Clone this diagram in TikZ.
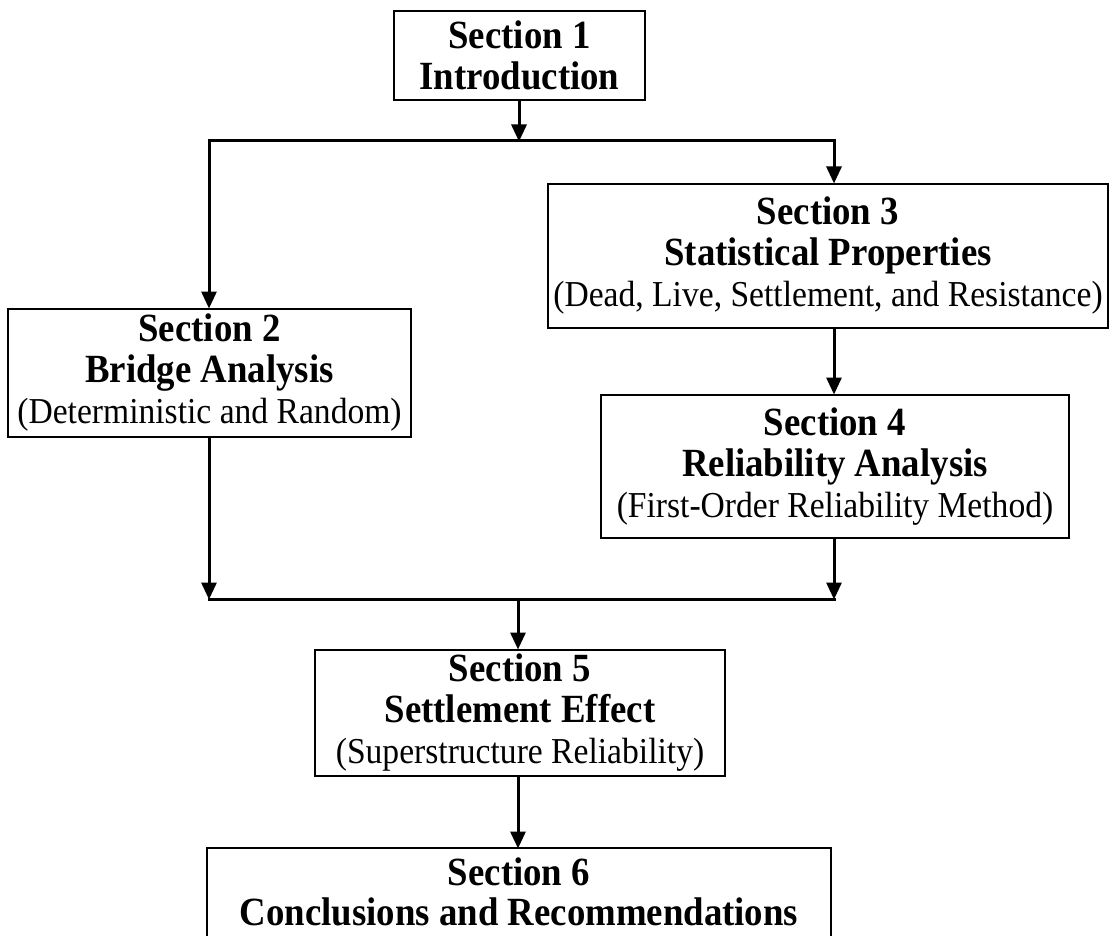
\documentclass[tikz,border=0pt]{standalone}
\usepackage{fontspec}
\setmainfont{Liberation Serif}[FakeStretch=0.92]
\usetikzlibrary{arrows.meta}
\newcommand{\hd}[1]{\textbf{#1}}
\newcommand{\sub}[1]{{\fontsize{36.5}{41}\selectfont #1}}
\tikzset{
  boxtext/.style={rectangle, align=center, inner sep=0pt, font=\fontsize{40}{41}\selectfont},
  box/.style={boxtext, draw=black, line width=2pt},
  frameline/.style={draw=black, line width=2pt},
  conn/.style={line width=3pt, draw=black},
  arr/.style={conn, -{Triangle[width=15pt,length=17pt]}, shorten >=-0.5pt}
}
\begin{document}
\begin{tikzpicture}[x=1pt,y=-1pt]
\useasboundingbox (0,0) rectangle (1110,936);
\node[box, minimum width=251pt, minimum height=89pt] (b1) at (519.5,55.5)
  {\hd{Section 1}\\\hd{Introduction}};
\node[box, minimum width=560pt, minimum height=144pt] (b3) at (828,256)
  {\hd{Section 3}\\\hd{Statistical Properties}\\\sub{(Dead, Live, Settlement, and Resistance)}};
\node[box, minimum width=403pt, minimum height=128pt] (b2) at (209.5,373)
  {\hd{Section 2}\\\hd{Bridge Analysis}\\\sub{(Deterministic and Random)}};
\node[box, minimum width=468pt, minimum height=143pt] (b4) at (835,466.5)
  {\hd{Section 4}\\\hd{Reliability Analysis}\\\sub{(First-Order Reliability Method)}};
\node[box, minimum width=410pt, minimum height=126pt] (b5) at (520,713)
  {\hd{Section 5}\\\hd{Settlement Effect}\\\sub{(Superstructure Reliability)}};
% Section 6 box runs past the bottom edge: frame drawn on three sides
\node[rectangle, inner sep=0pt, minimum width=624pt, minimum height=88pt, anchor=north] (b6f) at (519,848) {};
\draw[frameline] (b6f.south west) -- (b6f.north west) -- (b6f.north east) -- (b6f.south east);
\node[boxtext, font=\fontsize{40}{40}\selectfont] (b6) at (519,892)
  {\hd{Section 6}\\\hd{Conclusions and Recommendations}};
\coordinate (j1) at (519,141);
\coordinate (hl) at (209,141);
\coordinate (hr) at (834,141);
\coordinate (jl) at (209,599);
\coordinate (jr) at (834,599);
\coordinate (j2) at (518,599);
\draw[arr] (b1.south -| j1) -- (j1);
\draw[conn] ([xshift=-1.5pt]hl) -- ([xshift=1.5pt]hr);
\draw[arr] (hl) -- (hl |- b2.north);
\draw[arr] (hr) -- (hr |- b3.north);
\draw[arr] (b3.south -| hr) -- (b4.north -| hr);
\draw[arr] (b2.south -| hl) -- (jl);
\draw[arr] (b4.south -| jr) -- (jr);
\draw[conn] ([xshift=-1.5pt]jl) -- ([xshift=1.5pt]jr);
\draw[arr] (j2) -- (j2 |- b5.north);
\draw[arr] (b5.south -| j2) -- (b6f.north -| j2);
\end{tikzpicture}
\end{document}
